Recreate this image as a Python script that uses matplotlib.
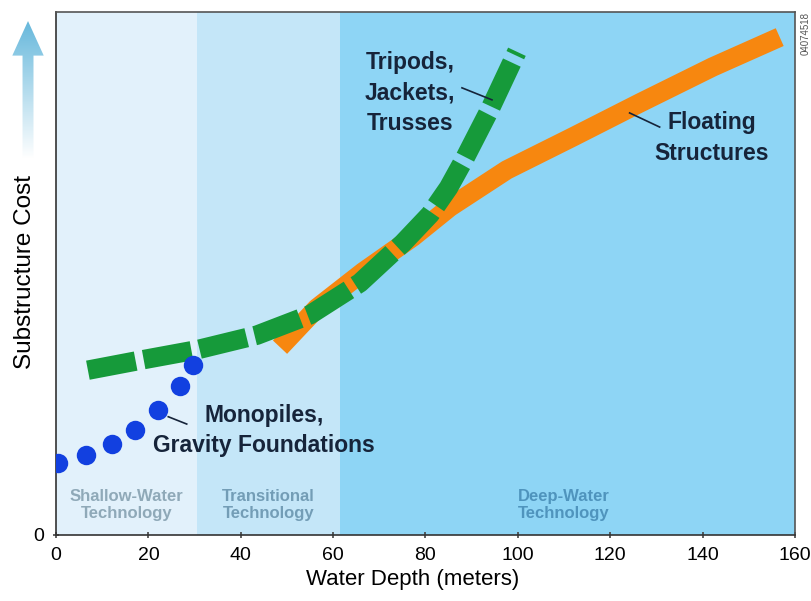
"""Offshore wind substructure cost vs water depth."""

import matplotlib.pyplot as plt
import numpy as np
from matplotlib.patches import Polygon

plt.rcParams["font.family"] = ["Liberation Sans", "DejaVu Sans"]

# band limits (m) and labels
band_edges = [0, 30.5, 61.5, 160]
band_colors = ["#e2f1fb", "#c4e6f8", "#8ed5f5"]
band_labels = ["Shallow-Water\nTechnology", "Transitional\nTechnology", "Deep-Water\nTechnology"]
band_label_colors = ["#8fa9b8", "#739db6", "#4f94bd"]

# monopiles / gravity foundations (blue dots)
mono_depth = [0.4, 6.5, 12.1, 17.1, 22.1, 26.8, 29.7]
mono_cost = [13.8, 15.3, 17.4, 20.1, 23.9, 28.5, 32.5]

# tripods, jackets, trusses (green dashes)
truss_depth = [6.9, 18.8, 30.5, 43.5, 55.0, 65.8, 75.1, 81.0, 85.0, 88.5, 93.9, 99.8]
truss_cost = [31.5, 33.5, 35.4, 38.2, 42.1, 48.2, 55.8, 61.3, 66.4, 72.0, 81.3, 92.4]

# floating structures (orange)
float_depth = [48.5, 56.5, 66.5, 77.3, 85.3, 97.6, 111.9, 126.4, 142.2, 156.7]
float_cost = [35.9, 43.4, 50.3, 57.0, 62.7, 69.8, 76.1, 82.6, 89.5, 95.2]

xticks = [0, 20, 40, 60, 80, 100, 120, 140, 160]

TEXT = "#16243a"

fig = plt.figure(figsize=(8.12, 6.01), dpi=100)
ax = fig.add_axes([0.069, 0.11, 0.910, 0.870])

for i in range(3):
    ax.axvspan(band_edges[i], band_edges[i + 1], color=band_colors[i], zorder=0, lw=0)
    mid = (band_edges[i] + band_edges[i + 1]) / 2
    if i == 2:
        mid = 110
    ax.text(mid, 5.7, band_labels[i], ha="center", va="center", fontsize=12,
            fontweight="bold", color=band_label_colors[i], linespacing=1.1)

ax.plot(float_depth, float_cost, color="#f7870f", lw=14, solid_capstyle="butt",
        solid_joinstyle="round", zorder=2)
ax.plot(truss_depth, truss_cost, color="#169a3a", lw=14, linestyle=(0, (2.5, 0.42)),
        dash_capstyle="butt", dash_joinstyle="round", zorder=3)
ax.plot(mono_depth, mono_cost, "o", color="#1240e0", ms=14, mec="none", zorder=4)

# labels with leader lines
ax.text(76.6, 84.5, "Tripods,\nJackets,\nTrusses", ha="center", va="center", fontsize=16.5,
        fontweight="bold", color=TEXT, linespacing=1.4)
ax.plot([87.9, 94.4], [85.5, 83.2], color=TEXT, lw=1.2, zorder=5)
ax.text(142, 75.9, "Floating\nStructures", ha="center", va="center", fontsize=16.5,
        fontweight="bold", color=TEXT, linespacing=1.4)
ax.plot([124.2, 130.7], [80.7, 78.0], color=TEXT, lw=1.2, zorder=5)
ax.text(45, 19.9, "Monopiles,\nGravity Foundations", ha="center", va="center", fontsize=16.5,
        fontweight="bold", color=TEXT, linespacing=1.4)
ax.plot([24.3, 28.3], [22.6, 21.2], color=TEXT, lw=1.2, zorder=5)

ax.set_xlim(0, 160)
ax.set_ylim(0, 100)
ax.set_xticks(xticks)
ax.set_yticks([0])
ax.tick_params(labelsize=14, length=5, width=1.2, direction="inout", color="#444444", pad=6)
for s in ax.spines.values():
    s.set_color("#555555")
    s.set_linewidth(1.2)
ax.spines["left"].set_color("#333333")
ax.spines["bottom"].set_color("#333333")
ax.set_xlabel("Water Depth (meters)", fontsize=16, labelpad=4)
ax.xaxis.label.set_x(0.483)
fig.text(0.031, 0.547, "Substructure Cost", rotation=90, ha="center", va="center", fontsize=17.5)

# gradient arrow above y-label
aax = fig.add_axes([0.012, 0.735, 0.045, 0.23])
aax.set_xlim(0, 1)
aax.set_ylim(0, 1)
aax.axis("off")
grad = np.linspace(0, 1, 100).reshape(-1, 1)
top = np.array([0.40, 0.72, 0.86])
img = np.ones((100, 1, 3)) * (1 - grad[..., None]) + top * grad[..., None]
im = aax.imshow(img, extent=[0, 1, 0, 1], origin="lower", aspect="auto")
arrow = Polygon([[0.35, 0.0], [0.65, 0.0], [0.65, 0.75], [0.93, 0.75], [0.5, 1.0],
                 [0.07, 0.75], [0.35, 0.75]], closed=True, transform=aax.transData,
                facecolor="none", edgecolor="none")
aax.add_patch(arrow)
im.set_clip_path(arrow)

fig.text(0.992, 0.945, "04074518", rotation=90, ha="center", va="center", fontsize=7,
         color="#555555")

fig.savefig("out.png", dpi=100)
